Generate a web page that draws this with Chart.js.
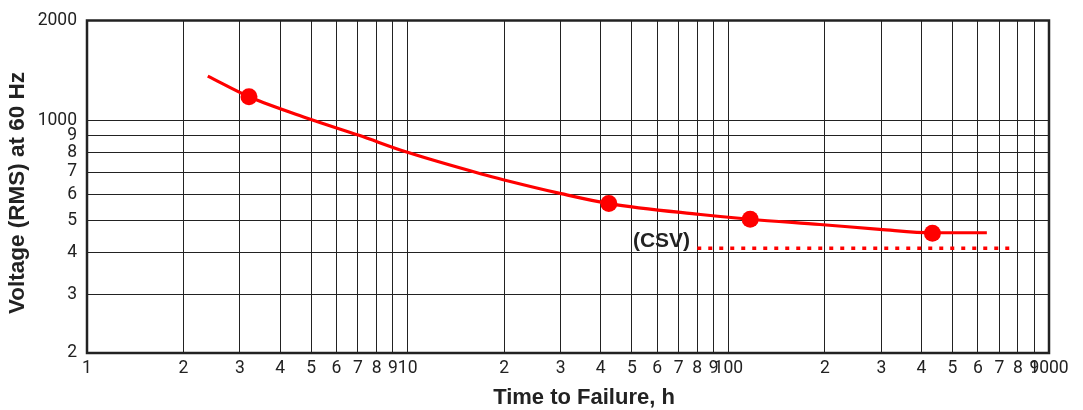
<!DOCTYPE html>
<html><head><meta charset="utf-8">
<script src="https://cdn.jsdelivr.net/npm/chart.js@4"></script>
<style>html,body{margin:0;padding:0;background:#fff}#wrap{width:1083px;height:410px;position:relative}</style>
</head><body><div id="wrap"><canvas id="c"></canvas></div>
<script>
// Curve (Time to Failure h, Voltage RMS)
const curveHours = [2.38, 3.23, 4.89, 7.05, 9.93, 16.98, 20, 30.1, 42.4, 81.9, 117, 193, 296.6, 433, 640];
const curveVolts = [1360, 1175, 1015, 903, 804, 691, 663, 603, 563, 522, 505, 487, 471, 460, 460];
// Measured points
const pointHours = [3.2, 42.4, 117, 433];
const pointVolts = [1180, 563, 505, 458];
// CSV dotted line
const csvHours = [80, 765];
const csvVolts = [413, 413];
const csvLabel = '(CSV)';
const csvLabelAt = [76, 434];
// Axes
const xTicks = [1,2,3,4,5,6,7,8,9,10,20,30,40,50,60,70,80,90,100,200,300,400,500,600,700,800,900,1000];
const xLabels = ['1','2','3','4','5','6','7','8','9','10','2','3','4','5','6','7','8','9','100','2','3','4','5','6','7','8','9','1000'];
const yTicks = [200,300,400,500,600,700,800,900,1000,2000];
const yLabels = ['2','3','4','5','6','7','8','9','1000','2000'];
const xTitle = 'Time to Failure, h';
const yTitle = 'Voltage (RMS) at 60 Hz';

const pts = (xs, ys) => xs.map((x, i) => ({x, y: ys[i]}));
const FONT = 'Roboto, "Liberation Sans", Arial, sans-serif';
const TFONT = '"Liberation Sans", Arial, sans-serif';

const framePlugin = {
  id: 'frame',
  afterDraw(chart) {
    const {ctx, chartArea: a, scales} = chart;
    ctx.save();
    ctx.strokeStyle = '#222';
    ctx.lineWidth = 2.5;
    ctx.strokeRect(a.left, a.top, a.right - a.left, a.bottom - a.top);
    ctx.fillStyle = '#222';
    ctx.textBaseline = 'middle';
    // CSV label
    ctx.font = 'bold 21px ' + TFONT;
    ctx.textAlign = 'right';
    ctx.fillText(csvLabel, scales.x.getPixelForValue(csvLabelAt[0]), scales.y.getPixelForValue(csvLabelAt[1]));
    // axis titles
    ctx.textAlign = 'center';
    ctx.font = 'bold 22px ' + TFONT;
    ctx.fillText(xTitle, 584, 398);
    ctx.translate(18, 193);
    ctx.rotate(-Math.PI / 2);
    ctx.font = 'bold 22.5px ' + TFONT;
    ctx.fillText(yTitle, 0, 0);
    ctx.restore();
  }
};

new Chart(document.getElementById('c'), {
  type: 'line',
  data: {
    datasets: [
      { data: pts(curveHours, curveVolts), borderColor: '#ff0000', borderWidth: 3.2, pointRadius: 0, tension: 0.4, cubicInterpolationMode: 'monotone', fill: false },
      { data: pts(pointHours, pointVolts), showLine: false, pointRadius: 8.5, pointBackgroundColor: '#ff0000', pointBorderWidth: 0, borderColor: '#ff0000' },
      { data: pts(csvHours, csvVolts), borderColor: '#ff0000', borderWidth: 3.5, borderDash: [4, 7], borderCapStyle: 'butt', pointRadius: 0, fill: false }
    ]
  },
  options: {
    responsive: true,
    maintainAspectRatio: false,
    animation: false,
    events: [],
    layout: { padding: { left: 6, right: 34, top: 18, bottom: 0 } },
    plugins: { legend: { display: false }, tooltip: { enabled: false } },
    scales: {
      x: {
        type: 'logarithmic', min: 1, max: 1000,
        afterBuildTicks: s => { s.ticks = xTicks.map(v => ({value: v})); },
        afterFit: s => { s.height = 57; },
        ticks: { autoSkip: false, maxRotation: 0, minRotation: 0, padding: 5, color: '#222', font: { family: FONT, size: 17.5 },
          callback: (v, i) => xLabels[i] },
        grid: { color: '#222', lineWidth: 1, drawTicks: false },
        border: { display: false },
        title: { display: false }
      },
      y: {
        type: 'logarithmic', min: 200, max: 2000,
        afterBuildTicks: s => { s.ticks = yTicks.map(v => ({value: v})); },
        afterFit: s => { s.width = 81; },
        ticks: { autoSkip: false, padding: 10, color: '#222', font: { family: FONT, size: 17.5 },
          callback: (v, i) => yLabels[i] },
        grid: { color: '#222', lineWidth: 1, drawTicks: false },
        border: { display: false },
        title: { display: false }
      }
    }
  },
  plugins: [framePlugin]
});
</script></body></html>
